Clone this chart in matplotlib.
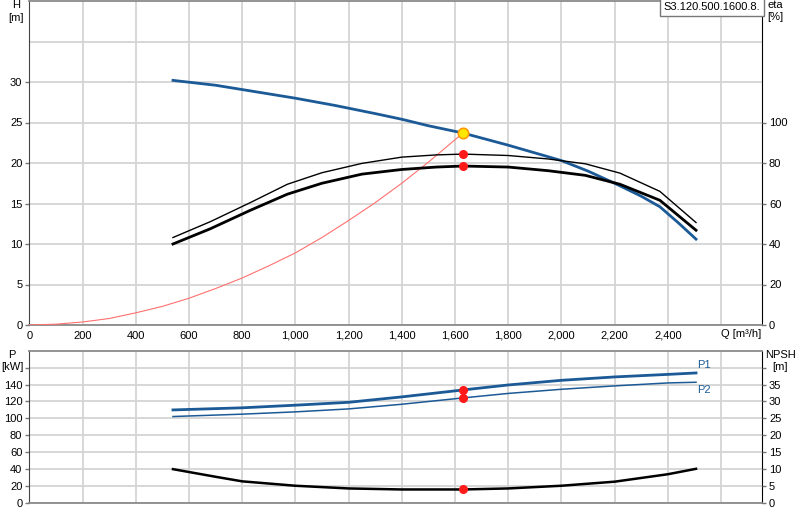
import numpy as np
import matplotlib
matplotlib.use("Agg")
import matplotlib.pyplot as plt

plt.rcParams["font.family"] = ["Liberation Sans", "DejaVu Sans"]
plt.rcParams["font.size"] = 8

# pump curve data (Q in m3/h)
q_h = [540, 700, 850, 1000, 1150, 1300, 1400, 1500, 1630, 1800, 2000, 2100, 2200, 2300, 2370, 2440, 2506]
h_pump = [30.2, 29.6, 28.8, 28.0, 27.1, 26.1, 25.4, 24.6, 23.7, 22.2, 20.3, 19.0, 17.5, 15.9, 14.6, 12.6, 10.6]

q_sys = [0, 100, 200, 300, 400, 500, 600, 700, 800, 900, 1000, 1100, 1200, 1300, 1400, 1500, 1630]
h_sys = [0, 0.1, 0.37, 0.8, 1.5, 2.3, 3.3, 4.5, 5.8, 7.3, 8.9, 10.8, 12.9, 15.1, 17.5, 20.1, 23.7]

q_eta = [540, 680, 830, 970, 1100, 1250, 1400, 1530, 1630, 1800, 1950, 2090, 2220, 2370, 2506]
eta1 = [43.2, 51.0, 60.4, 69.5, 75.2, 79.8, 82.9, 84.0, 84.4, 83.7, 82.0, 79.6, 75.0, 66.0, 50.6]
eta2 = [40.0, 47.5, 56.6, 64.6, 70.0, 74.5, 76.8, 78.0, 78.5, 78.0, 76.2, 73.9, 69.5, 61.6, 46.8]

q_p = [540, 800, 1000, 1200, 1400, 1630, 1800, 2000, 2200, 2400, 2506]
p1 = [110.0, 112.5, 115.6, 119.0, 125.4, 133.6, 139.5, 145.0, 149.0, 152.0, 153.7]
p2 = [102.2, 105.0, 107.7, 111.2, 116.7, 124.2, 129.5, 134.4, 138.4, 141.9, 142.7]

q_npsh = [540, 700, 800, 1000, 1200, 1400, 1630, 1800, 2000, 2200, 2400, 2506]
npsh = [10.0, 7.75, 6.4, 5.1, 4.3, 4.0, 4.0, 4.3, 5.1, 6.3, 8.5, 10.1]

q_duty = 1630
h_duty = 23.7
eta1_duty = 84.4
eta2_duty = 78.5
p1_duty = 133.6
p2_duty = 124.2
npsh_duty = 4.0

x_ticks = list(range(0, 2800, 200))
x_labels = [f"{v:,}" for v in x_ticks[:-1]] + [""]

blue = "#1b5a96"
grid_c = "#d4d4d4"
red = "#ff1a1a"

fig = plt.figure(figsize=(8, 5.2), dpi=100)
ax = fig.add_axes([29.3 / 800, (520 - 325) / 520, 732.7 / 800, 324 / 520])
ax_eta = ax.twinx()
axp = fig.add_axes([29.3 / 800, (520 - 503) / 520, 732.7 / 800, 152.3 / 520])
ax_n = axp.twinx()

for a in (ax, axp):
    a.set_xlim(0, 2754)
    a.set_xticks(x_ticks)
    a.grid(True, which="both", color=grid_c, linewidth=1.3)
    a.set_axisbelow(True)
    for s in ("top", "bottom"):
        a.spines[s].set_color("#8a8a8a")
        a.spines[s].set_linewidth(1.3)
    a.spines["left"].set_color("#444444")
    a.spines["right"].set_color("black")
    a.tick_params(axis="x", length=0, pad=4)
    a.tick_params(axis="y", which="major", length=3, width=1, color="#777777", pad=2)
    a.tick_params(axis="y", which="minor", length=0)

ax.set_xticklabels(x_labels)
axp.set_xticklabels([])

# top panel: head
ax.set_ylim(0, 40)
ax.set_yticks(range(0, 35, 5))
ax.set_yticks([35], minor=True)
ax.plot(q_sys, h_sys, color="#ff7070", linewidth=0.8, zorder=3)
ax.plot(q_h, h_pump, color=blue, linewidth=2.0, zorder=5)
ax.plot([q_duty], [h_duty], "o", color="#ffe800", markeredgecolor="#ff9a00",
        markersize=7.5, markeredgewidth=1.2, zorder=7)

ax_eta.set_ylim(0, 160)
ax_eta.set_yticks(range(0, 120, 20))
ax_eta.tick_params(axis="y", length=3, width=1, color="#777777", pad=2)
ax_eta.plot(q_eta, eta1, color="black", linewidth=1.0, zorder=4)
ax_eta.plot(q_eta, eta2, color="black", linewidth=2.0, zorder=4)
ax_eta.plot([q_duty, q_duty], [eta1_duty, eta2_duty], "o", color=red, markersize=5.5,
            linestyle="none", zorder=6)
for s in ax_eta.spines.values():
    s.set_visible(False)

ax.text(2600, -9 / 324, "Q [m\u00b3/h]", transform=ax.get_xaxis_transform(),
        ha="left", va="center", fontsize=8)
fig.text(16 / 800, 1 - 5 / 520, "H", ha="center", va="center", fontsize=8)
fig.text(16 / 800, 1 - 18 / 520, "[m]", ha="center", va="center", fontsize=8)
fig.text(775 / 800, 1 - 5 / 520, "eta", ha="center", va="center", fontsize=8)
fig.text(775 / 800, 1 - 17 / 520, "[%]", ha="center", va="center", fontsize=8)
ax.text(0.9975, 0.998, "S3.120.500.1600.8.", transform=ax.transAxes, ha="right", va="top",
        fontsize=8, bbox=dict(boxstyle="square,pad=0.35", facecolor="white",
                              edgecolor="#777777", linewidth=1), zorder=10)

# bottom panel: power and NPSH
axp.set_ylim(0, 180)
axp.set_yticks(range(0, 180, 20))
axp.set_yticklabels([str(v) if v <= 140 else "" for v in range(0, 180, 20)])
axp.plot(q_p, p1, color=blue, linewidth=2.0, zorder=4)
axp.plot(q_p, p2, color=blue, linewidth=1.1, zorder=4)
axp.plot([q_duty, q_duty], [p1_duty, p2_duty], "o", color=red, markersize=5.5,
         linestyle="none", zorder=6)
axp.text(2535, p1[-1] + 4, "P1", color=blue, ha="center", va="bottom", fontsize=8)
axp.text(2535, p2[-1] - 3, "P2", color=blue, ha="center", va="top", fontsize=8)

ax_n.set_ylim(0, 45)
ax_n.set_yticks(range(0, 45, 5))
ax_n.set_yticklabels([str(v) if v <= 35 else "" for v in range(0, 45, 5)])
ax_n.tick_params(axis="y", length=3, width=1, color="#777777", pad=2)
ax_n.plot(q_npsh, npsh, color="black", linewidth=1.8, zorder=4)
ax_n.plot([q_duty], [npsh_duty], "o", color=red, markersize=5.5, zorder=6)
for s in ax_n.spines.values():
    s.set_visible(False)

fig.text(12 / 800, 1 - 355 / 520, "P", ha="center", va="center", fontsize=8)
fig.text(12 / 800, 1 - 367 / 520, "[kW]", ha="center", va="center", fontsize=8)
fig.text(780 / 800, 1 - 355 / 520, "NPSH", ha="center", va="center", fontsize=8)
fig.text(780 / 800, 1 - 367 / 520, "[m]", ha="center", va="center", fontsize=8)

fig.savefig("out.png", dpi=100, facecolor="white")
